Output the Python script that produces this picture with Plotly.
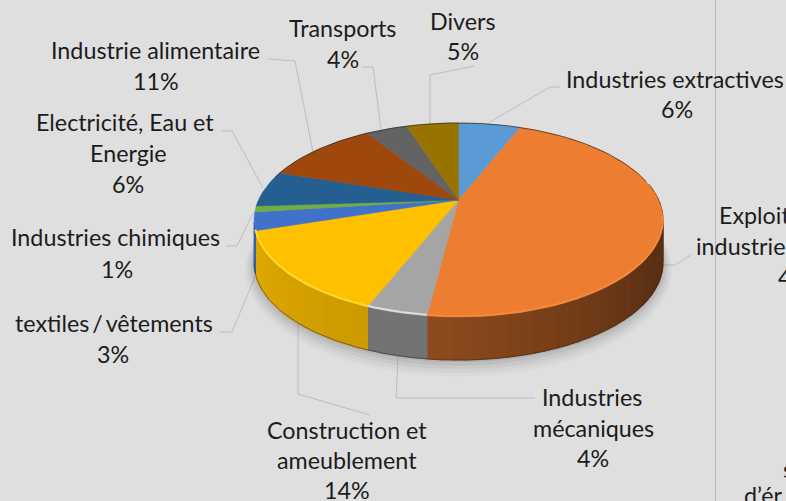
import math
import plotly.graph_objects as go

# ---- data ----
categories = ["Industries extractives", "Exploitation industrielle", "Industries mécaniques",
              "Construction et ameublement", "textiles / vêtements", "Industries chimiques",
              "Electricité, Eau et Energie", "Industrie alimentaire", "Transports", "Divers"]
shares = [6, 46, 4, 14, 3, 1, 6, 11, 4, 5]
top_colors = ["#5b9bd5", "#ed7d31", "#a5a5a5", "#ffc000", "#3f72c8",
              "#70ad47", "#255e91", "#9e480e", "#636363", "#997300"]
label_lines = [
    ("Transports", 342, 27.5, "center"), ("4%", 343, 58.5, "center"),
    ("Divers", 463, 20.5, "center"), ("5%", 463, 50.5, "center"),
    ("Industries extractives", 674.5, 78.5, "center"), ("6%", 677, 108.5, "center"),
    ("Industrie alimentaire", 155, 49.5, "center"), ("11%", 156, 80.5, "center"),
    ("Electricité, Eau et", 125, 121.5, "center"), ("Energie", 128, 152.5, "center"), ("6%", 128, 183.5, "center"),
    ("Industries chimiques", 115, 236.5, "center"), ("1%", 117, 268.5, "center"),
    ("textiles\u2009/\u2009vêtements", 114, 322.5, "center"), ("3%", 113, 353.5, "center"),
    ("Construction et", 347, 429.5, "center"), ("ameublement", 347, 459.5, "center"), ("14%", 347, 490, "center"),
    ("Industries", 592, 396.5, "center"), ("mécaniques", 593, 427.5, "center"), ("4%", 593, 457.5, "center"),
    ("Exploitation", 717, 214.5, "left"), ("industrielle", 694, 245.5, "left"), ("46%", 776, 276.5, "left"),
    ("s", 781, 468.5, "left"), ("d’ér", 742, 494.5, "left"),
]
leaders = [
    ([490, 550, 560], [122, 87, 87]),
    ([660, 675, 691], [265, 265, 255]),
    ([398, 396, 535], [357, 398, 398]),
    ([298, 298, 370], [320, 394, 415]),
    ([257, 232, 220], [272, 332, 332]),
    ([253, 237, 226], [213, 246, 246]),
    ([263, 232, 221], [188, 131, 131]),
    ([313, 295, 268], [152, 61, 59]),
    ([381, 373, 362], [130, 67, 67]),
    ([430, 430, 474], [124, 75, 66]),
]

BG = "#dfdfdf"
CX, CY, A, B, K, DEPTH = 458.5, 200.0, 200.0, 92.9, 0.206, 43.0


def project(theta_deg, r=1.0, dy=0.0, grow=0.0):
    t = math.radians(theta_deg)
    u, v = r * math.sin(t), r * math.cos(t)
    w = 1 + K * v
    return CX + (A + grow) * u / w, CY - (B + grow) * v / w + dy


def arc(a0, a1, n, dy=0.0, grow=0.0):
    pts = [project(a0 + (a1 - a0) * i / n, 1.0, dy, grow) for i in range(n + 1)]
    return [p[0] for p in pts], [p[1] for p in pts]


def blend(hex_color, f, target=(0, 0, 0)):
    r, g, b = [int(hex_color[i:i + 2], 16) for i in (1, 3, 5)]
    return "rgb(%d,%d,%d)" % tuple(round(c * (1 - f) + t * f) for c, t in zip((r, g, b), target))


fig = go.Figure()


def poly(xs, ys, color, edge=0.6):
    fig.add_trace(go.Scatter(x=xs, y=ys, mode="lines", fill="toself", fillcolor=color,
                             line=dict(width=edge, color=color), hoverinfo="skip", showlegend=False))


def line(xs, ys, color, width):
    fig.add_trace(go.Scatter(x=xs, y=ys, mode="lines", line=dict(width=width, color=color, shape="linear"),
                             hoverinfo="skip", showlegend=False))


for xs, ys in leaders:
    line(xs, ys, "#bdbdbd", 1)

# soft shadow under the disc
for grow, dy, alpha in [(9, 48, 0.025), (7, 47, 0.03), (5, 46, 0.04), (3, 45, 0.05), (1, 44, 0.07)]:
    xs, ys = arc(0, 360, 120, dy, grow)
    poly(xs, ys, "rgba(0,0,0,%.3f)" % alpha, 0)

total = sum(shares)
edges = [0.0]
for s in shares:
    edges.append(edges[-1] + 360.0 * s / total)

# wall: shade drifts with the angle inside each slice
for i, c in enumerate(top_colors):
    a0, a1 = edges[i], edges[i + 1]
    lo, hi = max(a0, 80.0), min(a1, 257.0)
    if hi <= lo:
        continue
    n = max(1, int((hi - lo) / 3))
    for k in range(n):
        s0 = lo + (hi - lo) * k / n
        s1 = lo + (hi - lo) * (k + 1) / n
        mid = (s0 + s1) / 2
        if c == "#ed7d31":
            f = 0.62 - 0.22 * max(0, mid - 120) / 67
        elif c == "#a5a5a5":
            f = 0.30
        else:
            f = 0.20 - 0.08 * (mid - lo) / (hi - lo)
        x0, y0 = arc(s0, s1, 3)
        x1, y1 = arc(s1, s0, 3, DEPTH)
        poly(x0 + x1 + [x0[0]], y0 + y1 + [y0[0]], blend(c, f), 1.2)

# outline of the wall's lower edge
xs, ys = arc(100, 257, 120, DEPTH)
line(xs, ys, "rgba(60,45,30,0.55)", 1)

# top face
for i, c in enumerate(top_colors):
    n = max(4, int((edges[i + 1] - edges[i]) / 2))
    xs, ys = arc(edges[i], edges[i + 1], n)
    poly([CX] + xs + [CX], [CY] + ys + [CY], c)

# bevel highlight along the front rim
bevel = {2: "#dcdcdc", 3: "#ffd92e", 1: "#f08a3f"}
for i, col in bevel.items():
    a0, a1 = edges[i], edges[i + 1]
    if i == 1:
        a0 = 100
    xs, ys = arc(a0, a1, 40, -1.0)
    line(xs, ys, col, 2)

# dark far rim
xs, ys = arc(-75, 78, 120)
line(xs, ys, "rgba(45,35,30,0.7)", 1)

annotations = [dict(text=t, x=x, y=y, xref="x", yref="y", xanchor=anchor, yanchor="middle",
                    showarrow=False, align=anchor, font=dict(family="Lato", size=23.3, color="#1c1c1c"))
               for t, x, y, anchor in label_lines]

fig.update_layout(
    width=786, height=501, autosize=False, margin=dict(l=0, r=0, t=0, b=0),
    paper_bgcolor=BG, plot_bgcolor=BG, showlegend=False,
    xaxis=dict(range=[0, 786], visible=False, fixedrange=True),
    yaxis=dict(range=[501, 0], visible=False, fixedrange=True),
    annotations=annotations,
    shapes=[dict(type="line", xref="x", yref="y", x0=715.5, x1=715.5, y0=0, y1=501,
                 line=dict(color="#b9b9b9", width=1), layer="below")],
)
fig.write_html("out.html", config={"displayModeBar": False},
               post_script="document.body.style.margin='0';document.body.style.overflow='hidden';")
